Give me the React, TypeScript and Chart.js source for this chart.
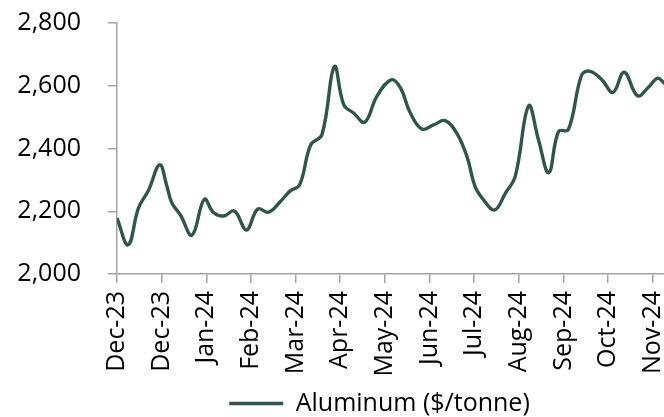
import React, { useEffect, useRef } from "react";
import { Chart, registerables } from "chart.js";

Chart.register(...registerables);

const tickLabels = [
  "Dec-23", "Dec-23", "Jan-24", "Feb-24", "Mar-24", "Apr-24", "May-24",
  "Jun-24", "Jul-24", "Aug-24", "Sep-24", "Oct-24", "Nov-24",
];

// position along the time axis, in months after the first "Dec-23" tick
const monthPositions = [
  0, 0.25, 0.48, 0.71, 0.955, 1.12, 1.23, 1.42, 1.68, 1.955,
  2.16, 2.39, 2.63, 2.9, 3.15, 3.4, 3.66, 3.88, 4.09, 4.34,
  4.59, 4.87, 5.08, 5.3, 5.55, 5.82, 6.14, 6.35, 6.57, 6.83,
  7.09, 7.35, 7.61, 7.84, 8.02, 8.21, 8.46, 8.7, 8.92, 9.22,
  9.44, 9.67, 9.89, 10.11, 10.41, 10.6, 10.86, 11.11, 11.36, 11.66,
  11.91, 12.11, 12.26, 12.45,
];

const aluminumPrices = [
  2178, 2093, 2210, 2268, 2348, 2279, 2226, 2188, 2124, 2238,
  2196, 2185, 2201, 2140, 2207, 2197, 2231, 2265, 2284, 2412,
  2444, 2661, 2539, 2513, 2484, 2566, 2619, 2593, 2513, 2462,
  2475, 2489, 2449, 2374, 2279, 2236, 2204, 2258, 2311, 2536,
  2428, 2323, 2454, 2460, 2635, 2646, 2619, 2579, 2643, 2568,
  2596, 2624, 2608, 2590,
];

const seriesName = "Aluminum ($/tonne)";

const FONT = "'Open Sans', sans-serif";
const AXIS_COLOR = "#a3a3a3";
const LINE_COLOR = "#2f5747";

export default function App() {
  const ref = useRef<HTMLCanvasElement>(null);

  useEffect(() => {
    if (!ref.current) return;
    const chart = new Chart(ref.current, {
      type: "line",
      data: {
        datasets: [
          {
            label: seriesName,
            data: monthPositions.map((x, i) => ({ x, y: aluminumPrices[i] })),
            borderColor: LINE_COLOR,
            backgroundColor: LINE_COLOR,
            borderWidth: 3.4,
            pointRadius: 0,
            pointStyle: "line",
            tension: 0.4,
            fill: false,
          },
        ],
      },
      options: {
        responsive: false,
        animation: false,
        events: [],
        layout: { padding: { top: 23, left: 0, right: 0, bottom: 0 } },
        scales: {
          x: {
            type: "linear",
            min: 0,
            max: 14.38,
            afterFit: (s: any) => {
              s.height = 115;
              s.paddingLeft = 0;
              s.paddingRight = 0;
            },
            ticks: {
              stepSize: 1,
              includeBounds: false,
              autoSkip: false,
              maxRotation: 90,
              minRotation: 90,
              padding: 8,
              color: "#000",
              font: { family: FONT, size: 25 },
              callback: (v: any) => tickLabels[Number(v)] ?? "",
            },
            grid: {
              drawOnChartArea: false,
              drawTicks: true,
              tickLength: 9,
              color: AXIS_COLOR,
              lineWidth: 1.5,
            },
            border: { color: AXIS_COLOR, width: 1.5 },
          },
          y: {
            min: 2000,
            max: 2800,
            afterFit: (s: any) => {
              s.width = 117;
              s.paddingTop = 0;
              s.paddingBottom = 0;
            },
            ticks: {
              stepSize: 200,
              padding: 27,
              color: "#000",
              font: { family: FONT, size: 25 },
            },
            grid: {
              drawOnChartArea: false,
              drawTicks: true,
              tickLength: 9,
              color: AXIS_COLOR,
              lineWidth: 1.5,
            },
            border: { color: AXIS_COLOR, width: 1.5 },
          },
        },
        plugins: {
          legend: {
            position: "bottom",
            labels: {
              usePointStyle: true,
              pointStyleWidth: 54,
              padding: 2,
              color: "#000",
              font: { family: FONT, size: 25 },
            },
          },
          tooltip: { enabled: false },
        },
      },
    });
    return () => chart.destroy();
  }, []);

  return (
    <div
      style={{
        position: "fixed",
        left: 0,
        top: 0,
        width: 664,
        height: 417,
        overflow: "hidden",
        background: "#fff",
      }}
    >
      <canvas ref={ref} width={759} height={426} style={{ display: "block" }} />
    </div>
  );
}
